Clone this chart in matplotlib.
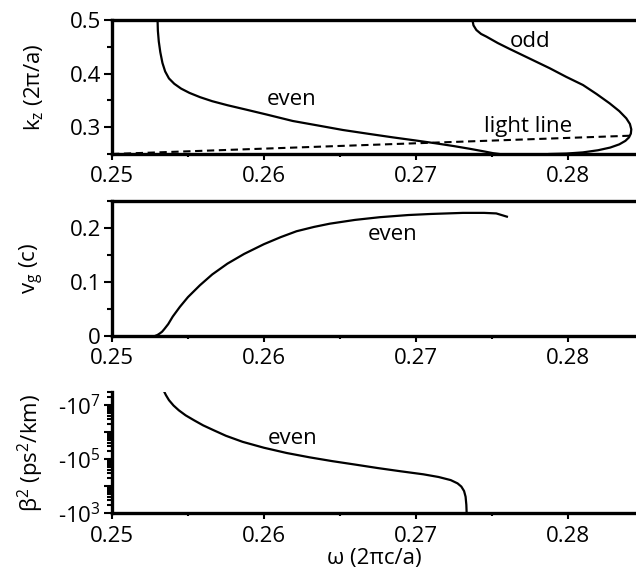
import math
import matplotlib
matplotlib.use('Agg')
import matplotlib.pyplot as plt
from matplotlib.ticker import MultipleLocator, LogLocator, FuncFormatter, NullFormatter

plt.rcParams['font.family'] = ['Open Sans', 'DejaVu Sans']
plt.rcParams['mathtext.fontset'] = 'custom'
plt.rcParams['mathtext.rm'] = 'Open Sans'
plt.rcParams['mathtext.it'] = 'Open Sans:italic'
plt.rcParams['mathtext.default'] = 'regular'
plt.rcParams['font.size'] = 16

# band structure k_z vs omega
evenOmega = [0.2530, 0.25302, 0.25308, 0.25318, 0.25332, 0.25350, 0.25375, 0.25410,
             0.25455, 0.2551, 0.2558, 0.2566, 0.2576, 0.2588, 0.2602, 0.2619,
             0.2636, 0.2652, 0.2669, 0.2685, 0.2700, 0.2713, 0.2725, 0.2736,
             0.2745, 0.2751, 0.2755]
evenK = [0.50, 0.48, 0.46, 0.44, 0.42, 0.404, 0.391, 0.381,
         0.372, 0.364, 0.356, 0.3485, 0.341, 0.333, 0.3235, 0.3116,
         0.303, 0.2948, 0.2876, 0.2810, 0.2752, 0.2700, 0.2648, 0.2595,
         0.2548, 0.2515, 0.2500]
oddOmega = [0.27373, 0.27380, 0.27399, 0.27430, 0.27465, 0.27540, 0.27618, 0.27750,
            0.27882, 0.27990, 0.28101, 0.28190, 0.28276, 0.28340, 0.28386, 0.28410,
            0.28419, 0.28416, 0.28404, 0.28380, 0.28340, 0.28280, 0.28200, 0.28100,
            0.27990, 0.27880]
oddK = [0.50, 0.490, 0.4813, 0.474, 0.469, 0.457, 0.446, 0.428,
        0.410, 0.394, 0.3787, 0.362, 0.3446, 0.330, 0.3166, 0.306,
        0.2960, 0.2880, 0.2810, 0.2745, 0.2680, 0.2620, 0.2570, 0.2530,
        0.2508, 0.2500]
lightOmega = [0.25, 0.2842]
lightK = [0.25, 0.2842]

# group velocity (even mode)
vgOmega = [0.25283, 0.25300, 0.25316, 0.25330, 0.25345, 0.25370, 0.25400, 0.25447,
           0.25500, 0.25579, 0.25660, 0.25760, 0.25870, 0.26000, 0.26110, 0.26215,
           0.26330, 0.26434, 0.26600, 0.26763, 0.26950, 0.27100, 0.27311, 0.27450,
           0.27530, 0.27600]
vgValues = [0, 0.002, 0.005, 0.008, 0.013, 0.022, 0.036, 0.054,
            0.072, 0.094, 0.114, 0.134, 0.152, 0.170, 0.183, 0.194,
            0.202, 0.208, 0.215, 0.220, 0.224, 0.226, 0.228, 0.228,
            0.227, 0.221]

# GVD magnitude |beta2| (ps^2/km), plotted on log axis as negative values
b2Omega = [0.25330, 0.25340, 0.25355, 0.25375, 0.25405, 0.25440, 0.25485, 0.25540,
           0.25600, 0.25670, 0.25750, 0.25860, 0.26000, 0.26150, 0.26300, 0.26450,
           0.26600, 0.26750, 0.26900, 0.27050, 0.27150, 0.27230, 0.27275, 0.27300,
           0.27318, 0.27328, 0.27333, 0.27335]
b2Mag = [5.0e7, 3.4e7, 2.3e7, 1.5e7, 9.5e6, 6.3e6, 4.1e6, 2.7e6,
         1.75e6, 1.15e6, 7.2e5, 4.3e5, 2.6e5, 1.66e5, 1.15e5, 8.3e4,
         6.2e4, 4.6e4, 3.5e4, 2.7e4, 2.15e4, 1.65e4, 1.25e4, 9.5e3,
         6.5e3, 4.0e3, 2.0e3, 1.0e3]

W, H = 636, 581
fig = plt.figure(figsize=(W / 100, H / 100), dpi=100)

def px_axes(left, top, right, bottom):
    return fig.add_axes([left / W, 1 - bottom / H, (right - left) / W, (bottom - top) / H])

ax1 = px_axes(112, 20, 636, 154)
ax2 = px_axes(112, 201, 636, 336)
ax3 = px_axes(112, 392, 636, 513)

lw = 1.6
for ax in (ax1, ax2, ax3):
    ax.set_xlim(0.25, 0.2845)
    ax.spines['right'].set_visible(False)
    for s in ('left', 'bottom', 'top'):
        ax.spines[s].set_linewidth(2.4)
    ax.xaxis.set_major_locator(MultipleLocator(0.01))
    ax.xaxis.set_minor_locator(MultipleLocator(0.005))
    ax.xaxis.set_major_formatter(FuncFormatter(lambda v, p: '%.2f' % v))
    ax.tick_params(axis='x', which='major', length=4, width=1.5, direction='out', pad=5)
    ax.tick_params(axis='x', which='minor', length=2, width=1.5, direction='out')
    ax.tick_params(axis='y', which='major', length=6, width=1.5, direction='out', pad=2)
    ax.tick_params(axis='y', which='minor', length=3.5, width=1.5, direction='out')
    ax.tick_params(top=False, right=False, which='both')
ax3.spines['top'].set_visible(False)

# panel 1
ax1.plot(evenOmega, evenK, color='k', lw=lw)
ax1.plot(oddOmega, oddK, color='k', lw=lw)
ax1.plot(lightOmega, lightK, color='k', lw=1.5, dashes=(3.5, 2.2))
ax1.set_ylim(0.25, 0.5)
ax1.yaxis.set_major_locator(MultipleLocator(0.1))
ax1.yaxis.set_minor_locator(MultipleLocator(0.05))
ax1.set_ylabel('k$_z$ (2π/a)')
ax1.text(0.2618, 0.351, 'even', ha='center', va='center')
ax1.text(0.2775, 0.460, 'odd', ha='center', va='center')
ax1.text(0.2774, 0.302, 'light line', ha='center', va='center')

# panel 2
ax2.plot(vgOmega, vgValues, color='k', lw=lw)
ax2.set_ylim(0, 0.25)
ax2.set_yticks([0, 0.1, 0.2])
ax2.set_yticklabels(['0', '0.1', '0.2'])
ax2.yaxis.set_minor_locator(MultipleLocator(0.05))
ax2.yaxis.get_major_ticks()[0].label1.set_va('center_baseline')
ax2.set_ylabel('v$_g$ (c)')
ax2.text(0.2685, 0.188, 'even', ha='center', va='center')

# panel 3
def neg_pow(v, p):
    e = round(math.log10(v))
    return '-10$^{%d}$' % e if e % 2 == 1 else ''

ax3.plot(b2Omega, b2Mag, color='k', lw=lw)
ax3.set_yscale('log')
ax3.set_ylim(1e3, 3.0e7)
ax3.yaxis.set_major_locator(LogLocator(base=10, numticks=10))
ax3.yaxis.set_minor_locator(LogLocator(base=10, subs=range(2, 10), numticks=20))
ax3.yaxis.set_major_formatter(FuncFormatter(neg_pow))
ax3.yaxis.set_minor_formatter(NullFormatter())
ax3.set_ylabel('β$^2$ (ps$^2$/km)')
ax3.set_xlabel('ω (2πc/a)', labelpad=1)
ax3.text(0.2619, 5.9e5, 'even', ha='center', va='center')

for ax in (ax1, ax2, ax3):
    ax.yaxis.set_label_coords(-0.125, 0.5)

fig.savefig('out.png', dpi=100)
